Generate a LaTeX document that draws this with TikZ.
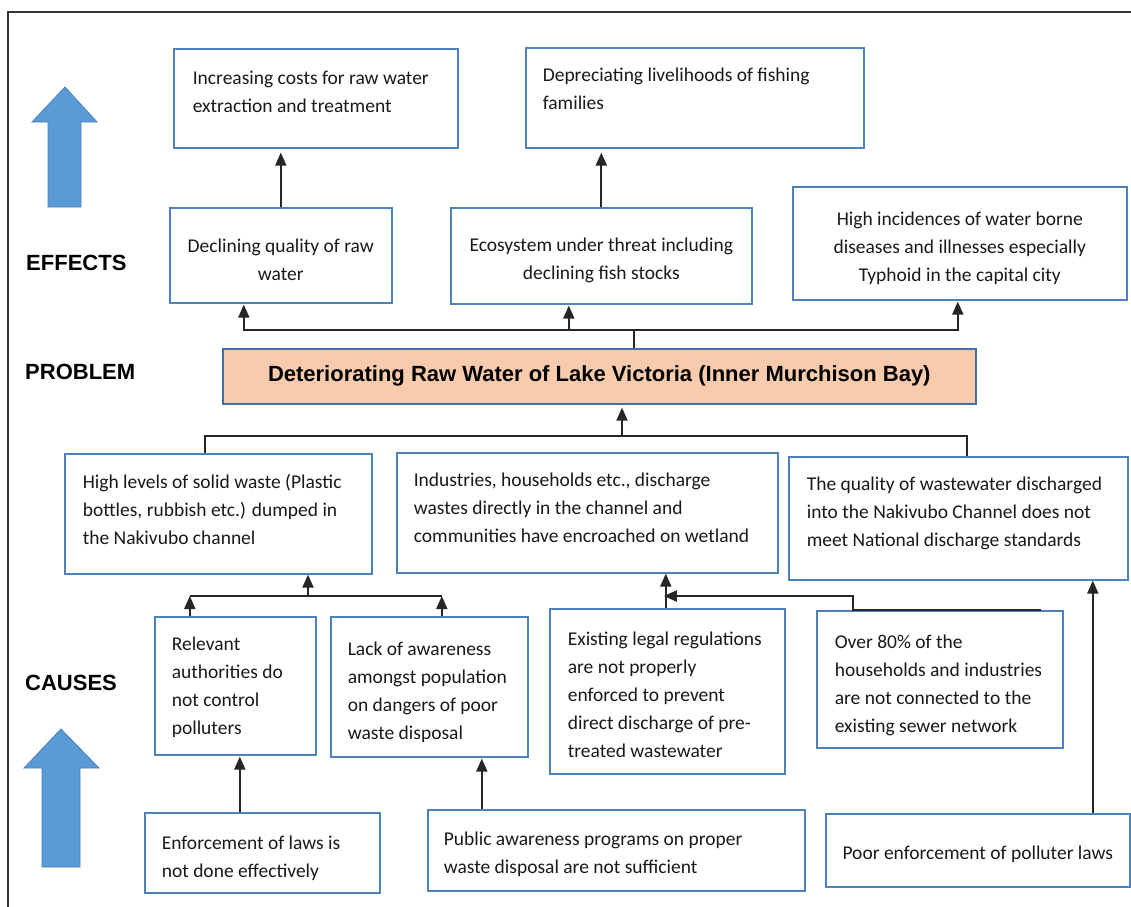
\documentclass[tikz,border=0pt]{standalone}
\usepackage{fontspec}
\setmainfont{Carlito}
\newfontfamily\hdfont{Liberation Sans}
\usetikzlibrary{arrows.meta,calc}
\definecolor{bxblue}{HTML}{4F81BD}
\definecolor{arrblue}{HTML}{5B9BD5}
\definecolor{arrline}{HTML}{4A7EBB}
\definecolor{peach}{HTML}{F8CBAD}
% left-aligned box text: width, height, first baseline from top, left pad, text
\newcommand\lbxt[5]{\parbox[c][#2pt][t]{#1pt}{\vspace*{\dimexpr#3pt-19.6pt\relax}\raggedright\leftskip=#4pt\relax\rightskip=-60pt plus 1fil\relax\strut #5\par}}
% centred box text: width, height, first baseline from top, text
\newcommand\cbxt[4]{\parbox[c][#2pt][t]{#1pt}{\vspace*{\dimexpr#3pt-19.6pt\relax}\centering\strut #4\par}}
\begin{document}
\begin{tikzpicture}[x=1pt,y=-1pt,
 bx/.style={draw=bxblue, line width=1.6pt, inner sep=0pt, anchor=north west,
   font=\fontsize{19.5}{28}\selectfont, text=black!90},
 hd/.style={font=\hdfont\bfseries\fontsize{22}{26}\selectfont, anchor=west, inner sep=0pt},
 conn/.style={draw=black!85, line width=1.9pt},
 arr/.style={conn, -{Triangle[length=13pt,width=11pt]}, shorten >=1pt},
 blockarrow/.style={fill=arrblue, draw=arrline, line width=0.8pt}]
\useasboundingbox (0,0) rectangle (1131,906);
\fill[white] (0,0) rectangle (1131,906);
\draw[line width=1.5pt, black!80] (8,12) rectangle (1150,925);

% side headings
\node[hd] (effects) at (26,263) {EFFECTS};
\node[hd] (problem) at (25,372) {PROBLEM};
\node[hd] (causes) at (25,683) {CAUSES};

% block arrows
\draw[blockarrow] (65,87) -- (97,122) -- (81,122) -- (81,207) -- (48,207) -- (48,122) -- (32,122) -- cycle;
\draw[blockarrow] (61,729) -- (99,768) -- (80,768) -- (80,867) -- (42,867) -- (42,768) -- (24,768) -- cycle;

% effects
\node[bx] (E1) at (173,48) {\lbxt{284}{99}{36}{19}{Increasing costs for raw water\\extraction and treatment}};
\node[bx] (E2) at (525,47) {\lbxt{338}{100}{34}{17}{Depreciating livelihoods of fishing\\families}};
\node[bx] (D1) at (169,207) {\cbxt{222}{95}{45}{Declining quality of raw\\water}};
\node[bx] (D2) at (450,207) {\cbxt{301}{96}{44}{Ecosystem under threat including\\declining fish stocks}};
\node[bx] (D3) at (792,186) {\cbxt{334}{113}{39}{High incidences of water borne\\diseases and illnesses especially\\Typhoid in the capital city}};

% problem
\node[draw=bxblue!85!black, line width=1.6pt, fill=peach, inner sep=0pt, anchor=north west,
  minimum width=753pt, minimum height=55pt, font=\hdfont\bfseries\fontsize{22}{26}\selectfont]
  (P) at (222,348) {Deteriorating Raw Water of Lake Victoria (Inner Murchison Bay)};

% direct causes
\node[bx] (C1) at (64,453) {\lbxt{307}{120}{35}{18}{High levels of solid waste (Plastic\\bottles, rubbish etc.) dumped in\\the Nakivubo channel}};
\node[bx] (C2) at (396,452) {\lbxt{381}{120}{34}{17}{Industries, households etc., discharge\\wastes directly in the channel and\\communities have encroached on wetland}};
\node[bx] (C3) at (788,456) {\lbxt{339}{123}{34}{18}{The quality of wastewater discharged\\into the Nakivubo Channel does not\\meet National discharge standards}};

% second level causes
\node[bx] (B1) at (154,616) {\lbxt{161}{138}{34}{17}{Relevant\\authorities do\\not control\\polluters}};
\node[bx] (B2) at (330,616) {\lbxt{197}{140}{39}{17}{Lack of awareness\\amongst population\\on dangers of poor\\waste disposal}};
\node[bx] (B3) at (549,608) {\lbxt{235}{165}{37}{18}{Existing legal regulations\\are not properly\\enforced to prevent\\direct discharge of pre-\\treated wastewater}};
\node[bx] (B4) at (816,610) {\lbxt{246}{137}{38}{18}{Over 80\% of the\\households and industries\\are not connected to the\\existing sewer network}};

% root causes
\node[bx] (A1) at (144,812) {\lbxt{235}{80}{37}{17}{Enforcement of laws is\\not done effectively}};
\node[bx] (A2) at (427,809) {\lbxt{377}{81}{36}{16}{Public awareness programs on proper\\waste disposal are not sufficient}};
\node[bx] (A3) at (825,813) {\cbxt{304}{73}{46}{Poor enforcement of polluter laws}};

% connectors: effects
\draw[arr, shorten >=4pt] (D1.north) -- (D1.north |- E1.south);
\draw[arr, shorten >=4pt] (D2.north) -- (D2.north |- E2.south);
\coordinate (jE) at (634,330);
\coordinate (d1b) at ([xshift=-37pt]D1.south);
\coordinate (d2b) at ([xshift=-32.5pt]D2.south);
\coordinate (d3b) at ([xshift=-2pt]D3.south);
\draw[conn] (jE |- P.north) -- (jE);
\draw[arr] (jE) -| (d1b);
\draw[arr] (jE) -| (d2b);
\draw[arr] (jE) -| (d3b);

% connectors: direct causes to problem
\coordinate (jC) at (622,436);
\coordinate (c1t) at ([xshift=-13.5pt]C1.north);
\coordinate (c3t) at ([xshift=8.5pt]C3.north);
\draw[arr, shorten >=3pt] (jC) -- (jC |- P.south);
\draw[conn] (c1t) |- (jC) -| (c3t);

% connectors: B1, B2 to C1
\coordinate (jB) at (308,596);
\coordinate (b1t) at ([xshift=-45.5pt]B1.north);
\coordinate (b2t) at ([xshift=12.5pt]B2.north);
\draw[arr, shorten >=0pt] (jB) -- (jB |- C1.south);
\draw[arr, shorten >=0pt] (b1t) -- (b1t |- jB);
\draw[arr, shorten >=0pt] (b2t) -- (b2t |- jB);
\draw[conn] (b1t |- jB) -- (b2t |- jB);

% connectors: B3, B4 to C2
\coordinate (b3t) at ([xshift=-1.5pt]B3.north);
\coordinate (b4a) at ([xshift=101pt]B4.north);
\coordinate (b4b) at ([xshift=-87pt]B4.north);
\coordinate (jL) at (b3t |- jB);
\draw[arr, shorten >=0pt] (b3t) -- (b3t |- C2.south);
\draw[arr, shorten >=-2pt] (b4a) -- (b4b) |- (jL);

% connectors: root causes
\coordinate (a1t) at ([xshift=-22.5pt]A1.north);
\coordinate (a2t) at ([xshift=-134.5pt]A2.north);
\coordinate (a3t) at ([xshift=115pt]A3.north);
\draw[arr] (a1t) -- (a1t |- B1.south);
\draw[arr] (a2t) -- (a2t |- B2.south);
\draw[arr, shorten >=0pt] (a3t) -- (a3t |- C3.south);
\end{tikzpicture}
\end{document}
